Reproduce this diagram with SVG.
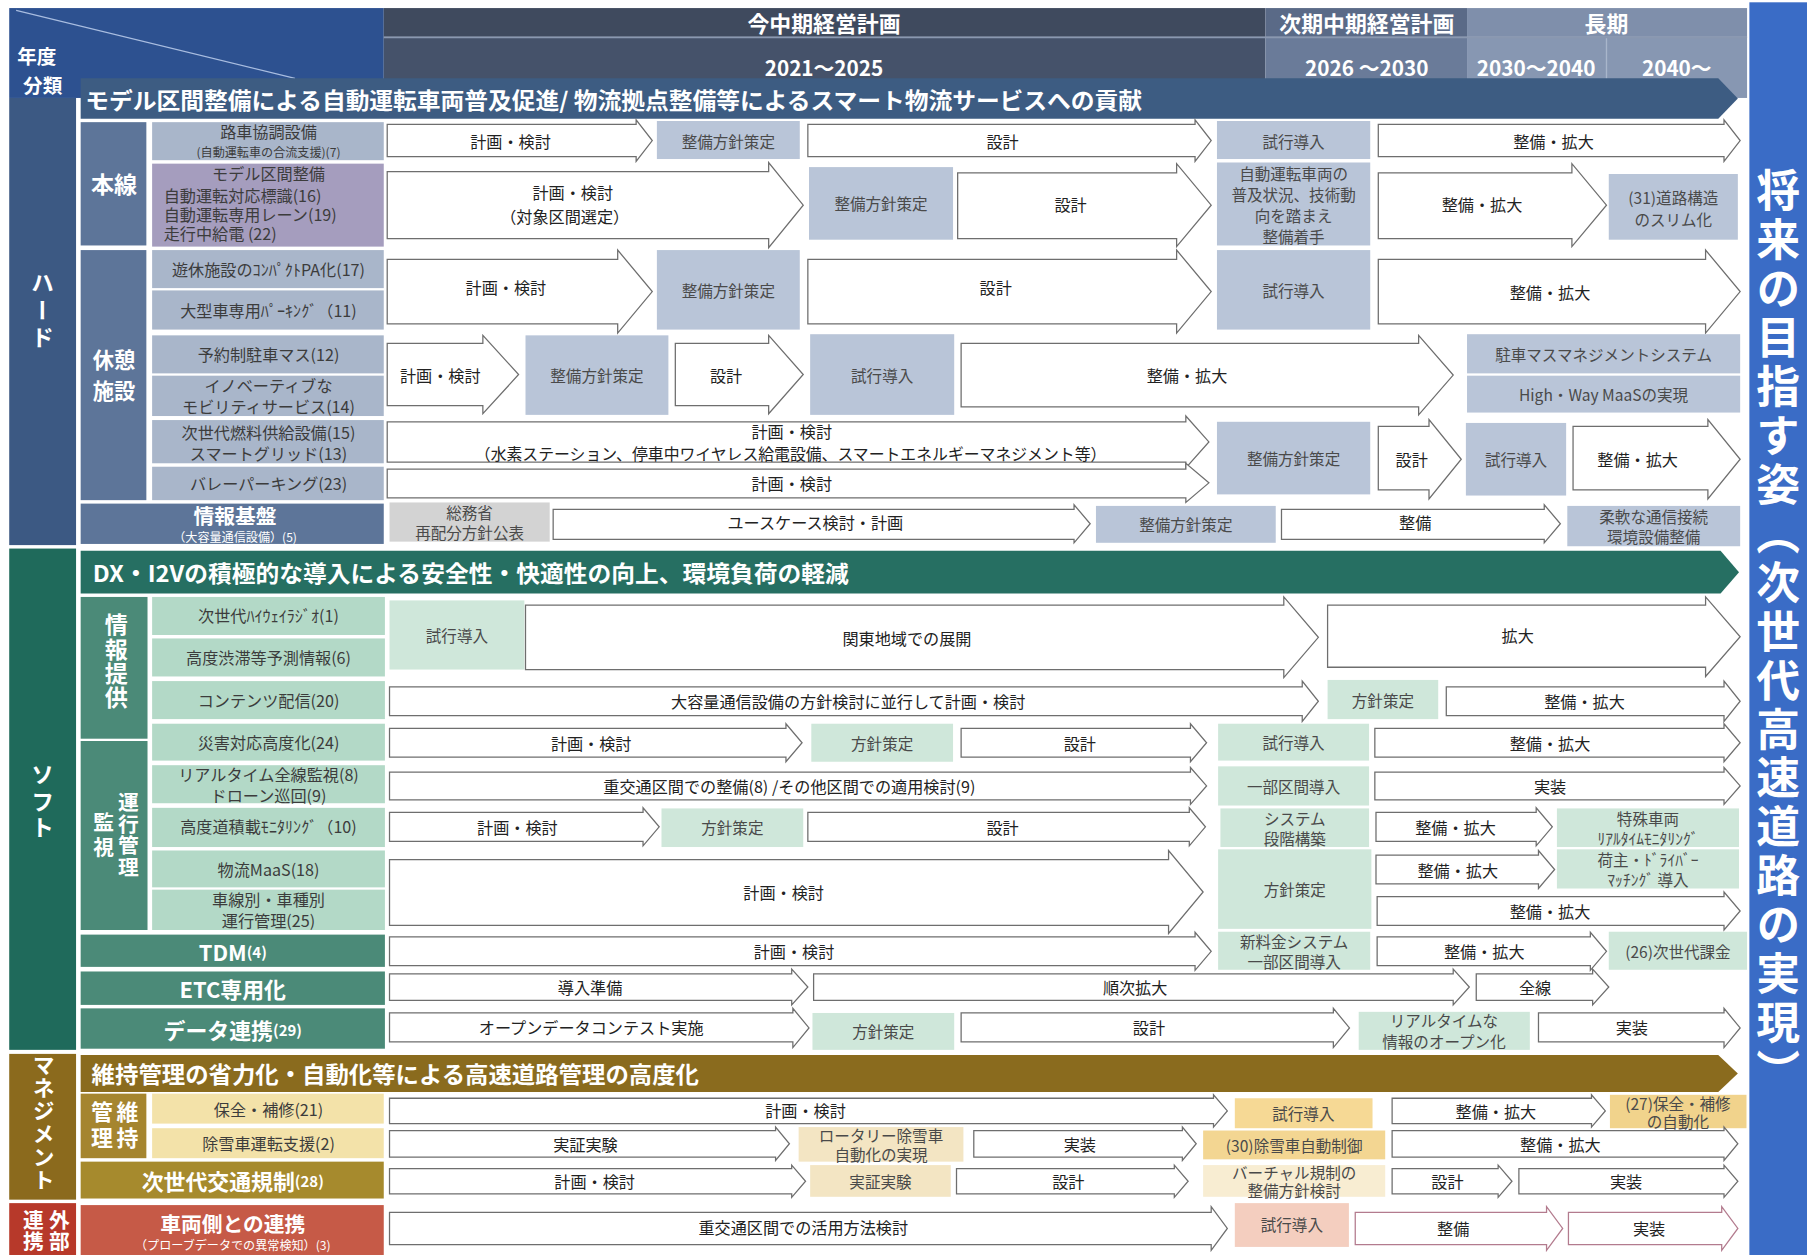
<svg xmlns="http://www.w3.org/2000/svg" width="1807" height="1255" viewBox="0 0 1807 1255">
<style>
text{font-family:"Noto Sans CJK JP","Noto Sans",sans-serif}
.c{text-anchor:middle;dominant-baseline:central}
.l{text-anchor:start;dominant-baseline:central}
.v{writing-mode:vertical-rl;text-anchor:start}
.a{fill:#fff;stroke:#6e6e6e;stroke-width:1.1}
.ap{fill:#fff;stroke:#b37b8e;stroke-width:1.1}
.at{font-size:14px;fill:#222}
.bt{font-size:13.5px;fill:#4a4a4a}
.lt{font-size:14px;fill:#3c3c3c}
.st{font-size:10.5px;fill:#3c3c3c}
.w{fill:#fff;font-weight:700}
.hb{fill:#b9c5d8}
.hl{fill:#a9b6ca}
.hs{fill:#5d7599}
.sb{fill:#cfe7da}
.sl{fill:#b3d9c7}
.ss{fill:#4b8a78}
.ml{fill:#f3e2a9}
.mb{fill:#f3e5c3}
.mg{fill:#f3d692}
</style>
<rect width="1807" height="1255" fill="#fff"/>
<g transform="scale(1.15242)">

<!-- header -->
<g id="hdr-nendo">
<rect x="8" y="7" width="325" height="78" fill="#2d5190"/>
<line x1="14" y1="9" x2="256" y2="68" stroke="#a9bde0" stroke-width="1"/>
<text x="32" y="48.5" class="c w" font-size="17">年度</text>
<text x="37" y="73" class="c w" font-size="17">分類</text>
</g>
<g id="hdr-current">
<rect x="333" y="7" width="765" height="25" fill="#3f4a5e"/>
<rect x="333" y="32" width="765" height="53" fill="#45526a"/>
<text x="715" y="19.5" class="c w" font-size="19">今中期経営計画</text>
<text x="715" y="58" class="c w" font-size="18">2021～2025</text>
</g>
<g id="hdr-next">
<rect x="1098" y="7" width="175" height="25" fill="#5a6a87"/>
<rect x="1098" y="32" width="175" height="53" fill="#6a7b99"/>
<text x="1186" y="19.5" class="c w" font-size="19">次期中期経営計画</text>
<text x="1186" y="58" class="c w" font-size="18">2026 ～2030</text>
</g>
<g id="hdr-long">
<rect x="1273" y="7" width="243" height="25" fill="#7f8fab"/>
<rect x="1273" y="32" width="243" height="53" fill="#8797b2"/>
<line x1="1394" y1="32" x2="1394" y2="85" stroke="#a9b6cb" stroke-width="1.2"/>
<text x="1394" y="19.5" class="c w" font-size="19">長期</text>
<text x="1333" y="58" class="c w" font-size="18">2030～2040</text>
<text x="1455" y="58" class="c w" font-size="18">2040～</text>
</g>
<line x1="333" y1="32.5" x2="1516" y2="32.5" stroke="#8a98b0" stroke-width="1.5"/>

<g id="goal-bar">
<rect x="1518" y="2" width="50" height="1087" fill="#3a6cc6"/>
<text x="1543" y="146" class="v w" font-size="38" letter-spacing="4.5">将来の目指す姿（次世代高速道路の実現）</text>
</g>

<!-- HARD section -->
<g id="cat-hard">
<rect x="8" y="85" width="58" height="388" fill="#3c5983"/>
<text x="37" y="235" class="v w" font-size="20" letter-spacing="4">ハード</text>
</g>
<g id="banner-hard">
<path d="M70 68H1491L1508 85.5L1491 103H70Z" fill="#3d5c82"/>
<text x="74" y="85.5" class="l w" font-size="19.5" textLength="917" lengthAdjust="spacingAndGlyphs">モデル区間整備による自動運転車両普及促進/ 物流拠点整備等によるスマート物流サービスへの貢献</text>
</g>
<g id="sub-honsen"><rect x="70" y="106" width="57" height="107" class="hs"/><text x="99" y="159" class="c w" font-size="20">本線</text></g>
<g id="sub-kyukei"><rect x="70" y="217" width="57" height="217" class="hs"/><text x="99" y="311.5" class="c w" font-size="18.5">休憩</text><text x="99" y="338" class="c w" font-size="18.5">施設</text></g>
<g id="sub-joho-kiban"><rect x="70" y="437" width="263" height="35" class="hs"/><text x="204" y="446.5" class="c w" font-size="18">情報基盤</text><text x="204" y="465.5" class="c" font-size="10.5" fill="#fff">（大容量通信設備）(5)</text></g>

<g id="lbl-rosha"><rect x="132" y="106" width="201" height="33" class="hl"/><text x="233" y="114" class="c lt" font-size="14">路車協調設備</text><text x="233" y="131.5" class="c st">(自動運転車の合流支援)(7)</text></g>
<g id="lbl-model"><rect x="132" y="142" width="201" height="72" fill="#a59dbe"/><text x="233" y="150.5" class="c lt" font-size="12.5">モデル区間整備</text><text class="l lt" font-size="10.8"><tspan x="142" y="169.5">自動運転対応標識(16)</tspan><tspan x="142" y="186">自動運転専用レーン(19)</tspan><tspan x="142" y="202.5">走行中給電 (22)</tspan></text></g>
<g id="lbl-yukyu"><rect x="132" y="217" width="201" height="33" class="hl"/><text x="233" y="233.5" class="c lt">遊休施設のｺﾝﾊﾟｸﾄPA化(17)</text></g>
<g id="lbl-ogata"><rect x="132" y="252" width="201" height="34" class="hl"/><text x="233" y="269" class="c lt">大型車専用ﾊﾟｰｷﾝｸﾞ（11)</text></g>
<g id="lbl-yoyaku"><rect x="132" y="291" width="201" height="33" class="hl"/><text x="233" y="307" class="c lt">予約制駐車マス(12)</text></g>
<g id="lbl-innov"><rect x="132" y="326" width="201" height="35" class="hl"/><text x="233" y="334.5" class="c lt" font-size="12.8">イノベーティブな</text><text x="233" y="352.5" class="c lt" font-size="12.8">モビリティサービス(14)</text></g>
<g id="lbl-nenryo"><rect x="132" y="364.5" width="201" height="37.5" class="hl"/><text x="233" y="374.5" class="c lt" font-size="12.8">次世代燃料供給設備(15)</text><text x="233" y="393" class="c lt" font-size="12.8">スマートグリッド(13)</text></g>
<g id="lbl-valet"><rect x="132" y="405" width="201" height="29" class="hl"/><text x="233" y="419.5" class="c lt">バレーパーキング(23)</text></g>

<!-- hard row 1 -->
<g id="h1-a1"><path d="M336 108H552V104L566 122L552 140V136H336Z" class="a"/><text x="443" y="122" class="c at">計画・検討</text></g>
<g id="h1-b1"><rect x="570" y="105" width="124" height="33" class="hb"/><text x="632" y="122" class="c bt">整備方針策定</text></g>
<g id="h1-a2"><path d="M701 108H1037V104L1051 122L1037 140V136H701Z" class="a"/><text x="870" y="122" class="c at">設計</text></g>
<g id="h1-b2"><rect x="1056" y="105" width="133" height="33" class="hb"/><text x="1122.5" y="122" class="c bt">試行導入</text></g>
<g id="h1-a3"><path d="M1196 108H1496V104L1510 122L1496 140V136H1196Z" class="a"/><text x="1348" y="122" class="c at">整備・拡大</text></g>
<!-- hard row 2 -->
<g id="h2-a1"><path d="M336 149H667V141L697 178L667 215V207H336Z" class="a"/><text x="497" y="167" class="c at">計画・検討</text><text x="490" y="187" class="c at" font-size="13.5">（対象区間選定）</text></g>
<g id="h2-b1"><rect x="702" y="145" width="125" height="63" class="hb"/><text x="764.5" y="176.5" class="c bt">整備方針策定</text></g>
<g id="h2-a2"><path d="M831 150H1021V142L1051 178L1021 214V207H831Z" class="a"/><text x="929" y="177" class="c at">設計</text></g>
<g id="h2-b2"><rect x="1056" y="141" width="133" height="72" class="hb"/><text x="1122.5" y="150.5" class="c bt" font-size="12.4">自動運転車両の</text><text x="1122.5" y="168.5" class="c bt" font-size="12.4">普及状況、技術動</text><text x="1122.5" y="186.5" class="c bt" font-size="12.4">向を踏まえ</text><text x="1122.5" y="204.5" class="c bt" font-size="12.4">整備着手</text></g>
<g id="h2-a3"><path d="M1196 150H1364V142L1394 178L1364 214V207H1196Z" class="a"/><text x="1286" y="177" class="c at">整備・拡大</text></g>
<g id="h2-b3"><rect x="1396" y="151" width="112" height="57" class="hb"/><text x="1452" y="171" class="c bt" font-size="13">(31)道路構造</text><text x="1452" y="190" class="c bt" font-size="13">のスリム化</text></g>
<!-- hard row 3 -->
<g id="h3-a1"><path d="M336 225H536V217L566 253L536 289V281H336Z" class="a"/><text x="439" y="249" class="c at">計画・検討</text></g>
<g id="h3-b1"><rect x="570" y="217" width="124" height="69" class="hb"/><text x="632" y="251.5" class="c bt">整備方針策定</text></g>
<g id="h3-a2"><path d="M701 225H1021V217L1051 253L1021 289V281H701Z" class="a"/><text x="864" y="249" class="c at">設計</text></g>
<g id="h3-b2"><rect x="1056" y="217" width="133" height="69" class="hb"/><text x="1122.5" y="251.5" class="c bt">試行導入</text></g>
<g id="h3-a3"><path d="M1196 225H1480V217L1510 253L1480 289V281H1196Z" class="a"/><text x="1345" y="253" class="c at">整備・拡大</text></g>
<!-- hard row 4 -->
<g id="h4-a1"><path d="M336 298H419V291L450 325L419 359V352H336Z" class="a"/><text x="382" y="325" class="c at">計画・検討</text></g>
<g id="h4-b1"><rect x="456" y="291" width="124" height="69" class="hb"/><text x="518" y="325.5" class="c bt">整備方針策定</text></g>
<g id="h4-a2"><path d="M586 298H667V291L697 325L667 359V352H586Z" class="a"/><text x="630" y="325" class="c at">設計</text></g>
<g id="h4-b2"><rect x="703" y="290" width="125" height="70" class="hb"/><text x="765.5" y="325" class="c bt">試行導入</text></g>
<g id="h4-a3"><path d="M834 298H1231V291L1261 325.5L1231 360V353H834Z" class="a"/><text x="1030" y="325.5" class="c at">整備・拡大</text></g>
<g id="h4-b3"><rect x="1273" y="290" width="237" height="34" class="hb"/><text x="1391.5" y="307" class="c bt">駐車マスマネジメントシステム</text></g>
<g id="h4-b4"><rect x="1273" y="326" width="237" height="32" class="hb"/><text x="1391.5" y="342" class="c bt">High・Way MaaSの実現</text></g>
<!-- hard rows 5-6 -->
<g id="h5-a1"><path d="M336 366H1029V361L1049 383.5L1029 406V401H336Z" class="a"/><text x="687" y="374" class="c at" font-size="13">計画・検討</text><text x="686" y="393" class="c at" font-size="13.5" textLength="548" lengthAdjust="spacingAndGlyphs">（水素ステーション、停車中ワイヤレス給電設備、スマートエネルギーマネジメント等）</text></g>
<g id="h6-a1"><path d="M336 407H1029V402L1049 419L1029 436V432H336Z" class="a"/><text x="687" y="419.5" class="c at">計画・検討</text></g>
<g id="h5-b1"><rect x="1056" y="366" width="133" height="63" class="hb"/><text x="1122.5" y="397.5" class="c bt">整備方針策定</text></g>
<g id="h5-a2"><path d="M1196 370H1240V364L1268 398.5L1240 433V425H1196Z" class="a"/><text x="1225" y="398" class="c at">設計</text></g>
<g id="h5-b2"><rect x="1272" y="367" width="87" height="63" class="hb"/><text x="1315.5" y="398.5" class="c bt">試行導入</text></g>
<g id="h5-a3"><path d="M1365 370H1482V364L1510 398.5L1482 433V425H1365Z" class="a"/><text x="1421" y="398" class="c at">整備・拡大</text></g>
<!-- info base row -->
<g id="h7-b1"><rect x="338" y="436" width="139" height="34" fill="#d3d3d3"/><text x="407.5" y="444" class="c bt" font-size="12">総務省</text><text x="407.5" y="461.5" class="c bt" font-size="12">再配分方針公表</text></g>
<g id="h7-a1"><path d="M480 442H932V438L946 454.5L932 471V468H480Z" class="a"/><text x="707.5" y="453" class="c at">ユースケース検討・計画</text></g>
<g id="h7-b2"><rect x="951" y="439" width="156" height="32" class="hb"/><text x="1029" y="455" class="c bt">整備方針策定</text></g>
<g id="h7-a2"><path d="M1112 442H1340V438L1354 454.5L1340 471V468H1112Z" class="a"/><text x="1228" y="453" class="c at">整備</text></g>
<g id="h7-b3"><rect x="1360" y="439" width="150" height="35" class="hb"/><text x="1435" y="447.5" class="c bt" font-size="12.2">柔軟な通信接続</text><text x="1435" y="465.5" class="c bt" font-size="12.2">環境設備整備</text></g>

<!-- SOFT section -->
<g id="cat-soft">
<rect x="8" y="476" width="58" height="435" fill="#1f6a5b"/>
<text x="37" y="662" class="v w" font-size="20" letter-spacing="3">ソフト</text>
</g>
<g id="banner-soft">
<path d="M70 478H1493L1509 496.5L1493 515H70Z" fill="#266f62"/>
<text x="80.5" y="496.5" class="l w" font-size="20" textLength="656" lengthAdjust="spacingAndGlyphs">DX・I2Vの積極的な導入による安全性・快適性の向上、環境負荷の軽減</text>
</g>
<g id="sub-johoteikyo"><rect x="70" y="518" width="58" height="123" class="ss"/><text x="101" y="532" class="v w" font-size="20" letter-spacing="1">情報提供</text></g>
<g id="sub-unko"><rect x="70" y="643" width="58" height="164" class="ss"/><text x="111.5" y="687" class="v w" font-size="18" letter-spacing="0.7">運行管理</text><text x="90" y="704" class="v w" font-size="18" letter-spacing="4">監視</text></g>

<g id="lbl-radio"><rect x="132" y="518" width="202" height="33" class="sl"/><text x="233" y="534" class="c lt">次世代ﾊｲｳｪｲﾗｼﾞｵ(1)</text></g>
<g id="lbl-jutai"><rect x="132" y="554" width="202" height="33" class="sl"/><text x="233" y="570.5" class="c lt">高度渋滞等予測情報(6)</text></g>
<g id="lbl-contents"><rect x="132" y="591" width="202" height="33" class="sl"/><text x="233" y="607.5" class="c lt">コンテンツ配信(20)</text></g>
<g id="lbl-saigai"><rect x="132" y="628" width="202" height="32" class="sl"/><text x="233" y="644" class="c lt">災害対応高度化(24)</text></g>
<g id="lbl-realtime"><rect x="132" y="664" width="202" height="33" class="sl"/><text x="233" y="671.5" class="c lt" font-size="12.5">リアルタイム全線監視(8)</text><text x="233" y="689.5" class="c lt" font-size="12.5">ドローン巡回(9)</text></g>
<g id="lbl-sekisai"><rect x="132" y="701" width="202" height="34" class="sl"/><text x="233" y="717" class="c lt">高度道積載ﾓﾆﾀﾘﾝｸﾞ（10)</text></g>
<g id="lbl-maas"><rect x="132" y="738" width="202" height="32" class="sl"/><text x="233" y="754" class="c lt">物流MaaS(18)</text></g>
<g id="lbl-shasen"><rect x="132" y="772" width="202" height="35" class="sl"/><text x="233" y="780.5" class="c lt" font-size="12.5">車線別・車種別</text><text x="233" y="798.5" class="c lt" font-size="12.5">運行管理(25)</text></g>
<g id="lbl-tdm"><rect x="70" y="811" width="264" height="28" class="ss"/><text x="202" y="825" class="c w"><tspan font-size="19">TDM</tspan><tspan font-size="13">(4)</tspan></text></g>
<g id="lbl-etc"><rect x="70" y="843" width="264" height="29" class="ss"/><text x="202" y="857.5" class="c w" font-size="19">ETC専用化</text></g>
<g id="lbl-data"><rect x="70" y="875" width="264" height="35" class="ss"/><text x="202" y="892.5" class="c w"><tspan font-size="19">データ連携</tspan><tspan font-size="13">(29)</tspan></text></g>

<!-- soft rows -->
<g id="s1-b1"><rect x="338" y="521" width="117" height="60" class="sb"/><text x="396.5" y="551" class="c bt">試行導入</text></g>
<g id="s1-a1"><path d="M456 525H1114V518L1144 553L1114 588V581H456Z" class="a"/><text x="787" y="554" class="c at">関東地域での展開</text></g>
<g id="s1-a2"><path d="M1152 525H1480V518L1510 552.5L1480 587V579H1152Z" class="a"/><text x="1317" y="551" class="c at">拡大</text></g>
<g id="s2-a1"><path d="M338 596H1130V591L1144 608.5L1130 626V621H338Z" class="a"/><text x="736" y="608.5" class="c at">大容量通信設備の方針検討に並行して計画・検討</text></g>
<g id="s2-b1"><rect x="1152" y="590" width="96" height="34" class="sb"/><text x="1200" y="607" class="c bt">方針策定</text></g>
<g id="s2-a2"><path d="M1255 596H1496V591L1510 608.5L1496 626V621H1255Z" class="a"/><text x="1375" y="608.5" class="c at">整備・拡大</text></g>
<g id="s3-a1"><path d="M338 632H682V628L696 644.5L682 661V657H338Z" class="a"/><text x="513" y="644.5" class="c at">計画・検討</text></g>
<g id="s3-b1"><rect x="704" y="628" width="123" height="33" class="sb"/><text x="765.5" y="644.5" class="c bt">方針策定</text></g>
<g id="s3-a2"><path d="M834 632H1033V628L1047 644.5L1033 661V657H834Z" class="a"/><text x="937" y="644.5" class="c at">設計</text></g>
<g id="s3-b2"><rect x="1057" y="628" width="131" height="32" class="sb"/><text x="1122.5" y="644" class="c bt">試行導入</text></g>
<g id="s3-a3"><path d="M1193 632H1496V628L1510 644.5L1496 661V657H1193Z" class="a"/><text x="1345" y="644.5" class="c at">整備・拡大</text></g>
<g id="s4-a1"><path d="M338 670H1033V666L1047 682L1033 698V694H338Z" class="a"/><text x="685" y="682" class="c at">重交通区間での整備(8) /その他区間での適用検討(9)</text></g>
<g id="s4-b1"><rect x="1057" y="665" width="131" height="34" class="sb"/><text x="1122.5" y="682" class="c bt">一部区間導入</text></g>
<g id="s4-a2"><path d="M1193 670H1496V666L1510 682L1496 698V694H1193Z" class="a"/><text x="1345" y="682" class="c at">実装</text></g>
<g id="s5-a1"><path d="M338 705H558V701L572 717.5L558 734V730H338Z" class="a"/><text x="449" y="717.5" class="c at">計画・検討</text></g>
<g id="s5-b1"><rect x="574" y="701.5" width="123" height="33.5" class="sb"/><text x="635.5" y="718" class="c bt">方針策定</text></g>
<g id="s5-a2"><path d="M701 705H1032V701L1046 717.5L1032 734V730H701Z" class="a"/><text x="870" y="717.5" class="c at">設計</text></g>
<g id="s5-b2"><rect x="1059" y="701.5" width="129" height="33.5" class="sb"/><text x="1123.5" y="709.5" class="c bt" font-size="12">システム</text><text x="1123.5" y="727" class="c bt" font-size="12">段階構築</text></g>
<g id="s5-a3"><path d="M1194 705H1333V701L1347 717.5L1333 734V730H1194Z" class="a"/><text x="1263" y="717.5" class="c at">整備・拡大</text></g>
<g id="s5-b3"><rect x="1351" y="701.5" width="158" height="33.5" class="sb"/><text x="1430" y="709.5" class="c bt" font-size="12">特殊車両</text><text x="1430" y="727.5" class="c bt" font-size="10.5">ﾘｱﾙﾀｲﾑﾓﾆﾀﾘﾝｸﾞ</text></g>
<g id="s6-a1"><path d="M338 746H1014V738L1044 774L1014 810V803H338Z" class="a"/><text x="680" y="774" class="c at">計画・検討</text></g>
<g id="s6-b1"><rect x="1057" y="737" width="133" height="69" class="sb"/><text x="1123.5" y="771.5" class="c bt">方針策定</text></g>
<g id="s6-a2"><path d="M1194 742H1335V738L1349 754.5L1335 771V767H1194Z" class="a"/><text x="1265" y="754.5" class="c at">整備・拡大</text></g>
<g id="s6-b2"><rect x="1351" y="737" width="158" height="34" class="sb"/><text x="1430" y="745.5" class="c bt" font-size="12">荷主・ﾄﾞﾗｲﾊﾞｰ</text><text x="1430" y="763" class="c bt" font-size="12">ﾏｯﾁﾝｸﾞ 導入</text></g>
<g id="s6-a3"><path d="M1195 778H1496V774L1510 790.5L1496 807V803H1195Z" class="a"/><text x="1345" y="790.5" class="c at">整備・拡大</text></g>
<g id="s7-a1"><path d="M338 813H1037V809L1051 825.5L1037 842V838H338Z" class="a"/><text x="689" y="825.5" class="c at">計画・検討</text></g>
<g id="s7-b1"><rect x="1057" y="808.5" width="132" height="33" class="sb"/><text x="1123" y="816.5" class="c bt" font-size="12">新料金システム</text><text x="1123" y="834" class="c bt" font-size="12">一部区間導入</text></g>
<g id="s7-a2"><path d="M1195 813H1380V809L1394 825.5L1380 842V838H1195Z" class="a"/><text x="1288" y="825.5" class="c at">整備・拡大</text></g>
<g id="s7-b2"><rect x="1396" y="808.5" width="120" height="33" class="sb"/><text x="1456" y="825" class="c bt">(26)次世代課金</text></g>
<g id="s8-a1"><path d="M338 845H687V841L701 856.5L687 872V868H338Z" class="a"/><text x="512" y="856.5" class="c at">導入準備</text></g>
<g id="s8-a2"><path d="M706 845H1261V841L1275 856.5L1261 872V868H706Z" class="a"/><text x="985" y="856.5" class="c at">順次拡大</text></g>
<g id="s8-a3"><path d="M1281 845H1382V841L1396 856.5L1382 872V868H1281Z" class="a"/><text x="1332" y="856.5" class="c at">全線</text></g>
<g id="s9-a1"><path d="M338 879H688V875L702 892L688 909V904H338Z" class="a"/><text x="513" y="891.5" class="c at">オープンデータコンテスト実施</text></g>
<g id="s9-b1"><rect x="705" y="879" width="123" height="32" class="sb"/><text x="766.5" y="895" class="c bt">方針策定</text></g>
<g id="s9-a2"><path d="M834 879H1157V875L1171 892L1157 909V904H834Z" class="a"/><text x="997" y="891.5" class="c at">設計</text></g>
<g id="s9-b2"><rect x="1179" y="878" width="148.5" height="33" class="sb"/><text x="1253" y="885.5" class="c bt" font-size="12">リアルタイムな</text><text x="1253" y="903" class="c bt" font-size="12">情報のオープン化</text></g>
<g id="s9-a3"><path d="M1335 879H1496V875L1510 892L1496 909V904H1335Z" class="a"/><text x="1416" y="891.5" class="c at">実装</text></g>

<!-- MANAGEMENT section -->
<g id="cat-mgmt">
<rect x="8" y="914.5" width="58" height="126.5" fill="#8b6a1d"/>
<text x="38" y="914.5" class="v w" font-size="19" letter-spacing="1">マネジメント</text>
</g>
<g id="banner-mgmt">
<path d="M70 915.5H1491L1508 931.5L1491 947.5H70Z" fill="#8a6b1e"/>
<text x="79.5" y="931.5" class="l w" font-size="20" textLength="527" lengthAdjust="spacingAndGlyphs">維持管理の省力化・自動化等による高速道路管理の高度化</text>
</g>
<g id="sub-iji"><rect x="70" y="949" width="57" height="56" fill="#a5852f"/><text x="110.5" y="955" class="v w" font-size="19" letter-spacing="4">維持</text><text x="88.5" y="955" class="v w" font-size="19" letter-spacing="4">管理</text></g>
<g id="lbl-hozen"><rect x="132" y="949" width="201" height="26" class="ml"/><text x="233" y="962.5" class="c lt">保全・補修(21)</text></g>
<g id="lbl-josetsu"><rect x="132" y="979" width="201" height="26" class="ml"/><text x="233" y="992" class="c lt">除雪車運転支援(2)</text></g>
<g id="lbl-kisei"><rect x="70" y="1008" width="263" height="32" fill="#a68a2d"/><text x="202" y="1024" class="c w"><tspan font-size="19">次世代交通規制</tspan><tspan font-size="13">(28)</tspan></text></g>

<g id="m1-a1"><path d="M338 953H1053V950L1065 964L1053 978V975H338Z" class="a"/><text x="699" y="963" class="c at">計画・検討</text></g>
<g id="m1-b1"><rect x="1071.5" y="953" width="119.5" height="26" fill="#f6d995"/><text x="1131" y="966" class="c bt">試行導入</text></g>
<g id="m1-a2"><path d="M1208 953H1381V950L1393 964L1381 978V975H1208Z" class="a"/><text x="1298" y="964" class="c at">整備・拡大</text></g>
<g id="m1-b2"><rect x="1397" y="950" width="118.5" height="29" fill="#f1d38c"/><text x="1456" y="957" class="c bt" font-size="11">(27)保全・補修</text><text x="1456" y="973" class="c bt" font-size="11">の自動化</text></g>
<g id="m2-a1"><path d="M338 981H673V978L685 992.5L673 1007V1004H338Z" class="a"/><text x="508" y="992.5" class="c at">実証実験</text></g>
<g id="m2-b1"><rect x="693" y="978" width="143" height="30" class="mb"/><text x="764.5" y="985" class="c bt" font-size="11">ロータリー除雪車</text><text x="764.5" y="1001" class="c bt" font-size="11">自動化の実現</text></g>
<g id="m2-a2"><path d="M845 981H1026V978L1038 992.5L1026 1007V1004H845Z" class="a"/><text x="937" y="992.5" class="c at">実装</text></g>
<g id="m2-b2"><rect x="1044" y="981" width="158" height="25" class="mg"/><text x="1123" y="993.5" class="c bt">(30)除雪車自動制御</text></g>
<g id="m2-a3"><path d="M1208 981H1496V978L1508 992.5L1496 1007V1004H1208Z" class="a"/><text x="1354" y="992.5" class="c at">整備・拡大</text></g>
<g id="m3-a1"><path d="M338 1014H687V1011L699 1025L687 1039V1036H338Z" class="a"/><text x="516" y="1024.5" class="c at">計画・検討</text></g>
<g id="m3-b1"><rect x="703" y="1011" width="122" height="27.5" class="mb"/><text x="764" y="1025" class="c bt">実証実験</text></g>
<g id="m3-a2"><path d="M830 1014H1019V1011L1031 1025L1019 1039V1036H830Z" class="a"/><text x="927" y="1025" class="c at">設計</text></g>
<g id="m3-b2"><rect x="1044" y="1011" width="158" height="27.5" fill="#f8edd2"/><text x="1123" y="1017" class="c bt" font-size="11">バーチャル規制の</text><text x="1123" y="1033" class="c bt" font-size="11">整備方針検討</text></g>
<g id="m3-a3"><path d="M1208 1014H1300V1011L1312 1025L1300 1039V1036H1208Z" class="a"/><text x="1256" y="1025" class="c at">設計</text></g>
<g id="m3-a4"><path d="M1318 1014H1496V1011L1508 1025L1496 1039V1036H1318Z" class="a"/><text x="1411" y="1025" class="c at">実装</text></g>

<!-- EXTERNAL section -->
<g id="cat-ext">
<rect x="8" y="1044" width="58" height="45" fill="#b7392a"/>
<text x="51.5" y="1050" class="v w" font-size="18" letter-spacing="0">外部</text>
<text x="29" y="1050" class="v w" font-size="18" letter-spacing="0">連携</text>
</g>
<g id="lbl-sharyo"><rect x="70" y="1045.7" width="263" height="43.3" fill="#c65a47"/><text x="202" y="1061" class="c w" font-size="18">車両側との連携</text><text x="202" y="1079.5" class="c" font-size="10.5" fill="#fff">（プローブデータでの異常検知）(3)</text></g>
<g id="e1-a1"><path d="M338 1052H1051V1047L1065 1066L1051 1085V1080H338Z" class="a"/><text x="697" y="1065" class="c at">重交通区間での活用方法検討</text></g>
<g id="e1-b1"><rect x="1071.5" y="1044" width="99" height="38" fill="#f4cebf"/><text x="1121" y="1062" class="c bt">試行導入</text></g>
<g id="e1-a2"><path d="M1176 1052H1342V1047L1356 1066L1342 1085V1080H1176Z" class="ap"/><text x="1261" y="1065.5" class="c at">整備</text></g>
<g id="e1-a3"><path d="M1361 1052H1494V1047L1508 1066L1494 1085V1080H1361Z" class="ap"/><text x="1431" y="1065.5" class="c at">実装</text></g>
</g>
</svg>
